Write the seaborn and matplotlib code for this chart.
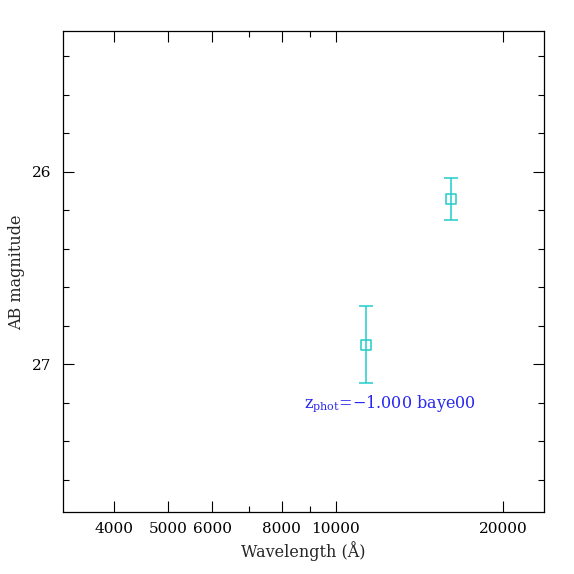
import matplotlib
matplotlib.use('Agg')
import matplotlib.pyplot as plt
import seaborn as sns
import pandas as pd
from matplotlib.ticker import FixedLocator, FixedFormatter, MultipleLocator

# photometry points
wavelength = [11350, 16130]
ab_mag = [26.90, 26.14]
mag_err = [0.20, 0.11]

x_major = [4000, 5000, 6000, 8000, 10000, 20000]
x_major_labels = ['4000', '5000', '6000', '8000', '10000', '20000']
x_minor = [7000, 9000]

annotation = r'$\mathregular{z_{phot}}$=−1.000 baye00'

sns.set_theme(style='ticks')
plt.rcParams['font.family'] = ['DejaVu Serif']
plt.rcParams['mathtext.fontset'] = 'dejavuserif'

point_color = '#22CCCC'
text_color = '#2828F0'

df = pd.DataFrame({'wavelength': wavelength, 'mag': ab_mag, 'err': mag_err})

fig = plt.figure(figsize=(5.74, 5.74), dpi=100)
ax = fig.add_axes([0.1092, 0.1075, 0.8385, 0.838])

ax.errorbar(df['wavelength'], df['mag'], yerr=df['err'], fmt='none',
            ecolor=point_color, elinewidth=1.1, capsize=4.7, capthick=1.1)
sns.scatterplot(data=df, x='wavelength', y='mag', marker='s', s=50,
                facecolor='none', edgecolor=point_color, linewidth=1.1,
                ax=ax, legend=False, zorder=3)

ax.set_xscale('log')
ax.set_xlim(3230, 23700)
ax.set_ylim(27.77, 25.27)

ax.xaxis.set_major_locator(FixedLocator(x_major))
ax.xaxis.set_major_formatter(FixedFormatter(x_major_labels))
ax.xaxis.set_minor_locator(FixedLocator(x_minor))
ax.xaxis.set_minor_formatter(FixedFormatter([''] * len(x_minor)))
ax.yaxis.set_major_locator(FixedLocator([26, 27]))
ax.yaxis.set_major_formatter(FixedFormatter(['26', '27']))
ax.yaxis.set_minor_locator(MultipleLocator(0.2))

ax.tick_params(which='both', direction='in', top=True, right=True,
               width=0.8, colors='black', labelsize=11)
ax.tick_params(which='major', length=7.7, pad=7)
ax.tick_params(which='minor', length=4)
ax.tick_params(axis='y', which='major', pad=8)

for spine in ax.spines.values():
    spine.set_visible(True)
    spine.set_linewidth(0.9)
    spine.set_color('black')

ax.text(8786, 27.224, annotation, color=text_color, fontsize=11.5,
        ha='left', va='baseline')

ax.set_xlabel('Wavelength (Å)', fontsize=11.5, labelpad=4)
ax.set_ylabel('AB magnitude', fontsize=11.5, labelpad=5)

fig.savefig('out.png', dpi=100)
